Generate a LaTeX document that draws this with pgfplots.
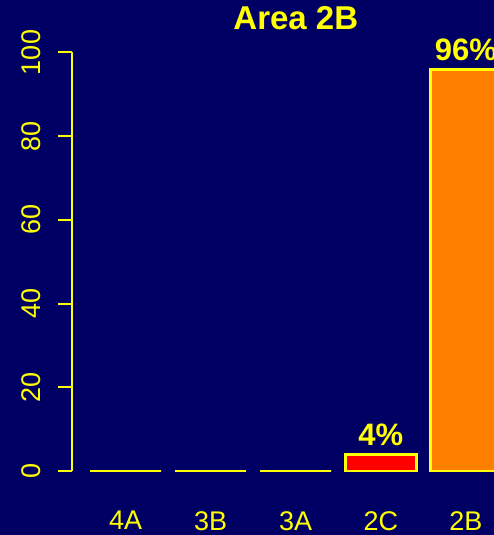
\documentclass[border=0pt]{standalone}
\usepackage{pgfplots}
\pgfplotsset{compat=1.18}
\usepackage{fontspec}
\setmainfont{Liberation Sans}
\definecolor{bg}{RGB}{0,0,100}
\definecolor{yel}{RGB}{255,255,0}
\definecolor{barorange}{RGB}{255,128,0}
\definecolor{barred}{RGB}{255,0,0}
\begin{document}
\begin{tikzpicture}
\fill[bg] (0,0) rectangle (494bp,535bp);
\begin{axis}[
  at={(72bp,64bp)}, anchor=south west,
  x=85.1bp, y=4.185bp,
  xmin=-0.629, xmax=4.6, ymin=0, ymax=100,
  axis lines*=left,
  x axis line style={draw=none},
  y axis line style={yel, line width=2bp},
  ytick={0,20,40,60,80,100},
  xtick={0,1,2,3,4},
  xticklabels={4A,3B,3A,2C,2B},
  tick align=outside,
  major tick length=14bp,
  y tick style={yel, line width=2bp},
  x tick style={draw=none},
  ticklabel style={text=yel, font=\fontsize{27bp}{30bp}\selectfont, inner sep=0pt},
  yticklabel style={rotate=90, anchor=south},
  xticklabel style={anchor=north},
  yticklabel shift=17bp,
  xticklabel shift=26bp,
  /pgf/number format/assume math mode=true,
  clip=false,
  ybar, bar width=71bp,
  title={Area 2B},
  title style={font=\bfseries\fontsize{33bp}{36bp}\selectfont, text=yel, at={(axis description cs:0.503,1)}, anchor=base, yshift=17.5bp, inner sep=0pt},
  point meta=explicit symbolic,
  nodes near coords,
  nodes near coords style={anchor=base, yshift=9bp, inner sep=0pt, text=yel, font=\bfseries\fontsize{31bp}{34bp}\selectfont},
]
\addplot[bar shift=0pt, draw=yel, fill=none, line width=2.6bp] coordinates {(0,0) [] (1,0) [] (2,0) []};
\addplot[bar shift=0pt, draw=yel, fill=barred, line width=2.6bp] coordinates {(3,4) [4\%]};
\addplot[bar shift=0pt, draw=yel, fill=barorange, line width=2.6bp] coordinates {(4,96) [96\%]};
\end{axis}
\pgfresetboundingbox
\path[use as bounding box] (0,0) rectangle (494bp,535bp);
\end{tikzpicture}
\end{document}
